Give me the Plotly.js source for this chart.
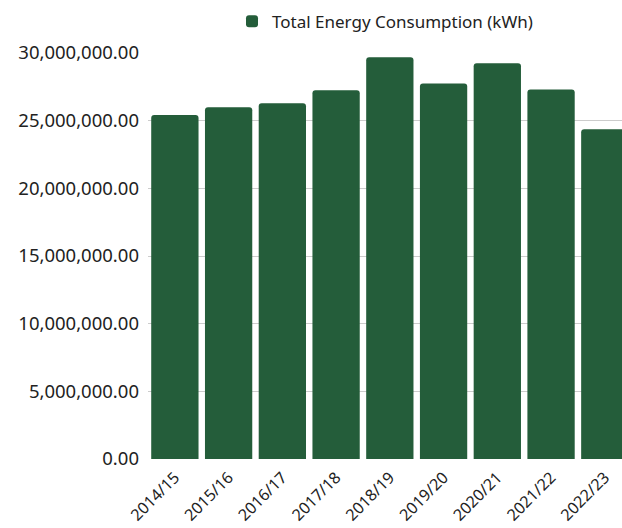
<!DOCTYPE html>
<html>
<head>
<meta charset="utf-8">
<script src="https://cdn.plot.ly/plotly-3.0.1.min.js"></script>
<style>html,body{margin:0;padding:0;background:#fff;}#chart{width:622px;height:528px;}</style>
</head>
<body>
<div id="chart"></div>
<script>
const years = ["2014/15","2015/16","2016/17","2017/18","2018/19","2019/20","2020/21","2021/22","2022/23"];
const consumption = [25420000, 26000000, 26290000, 27250000, 29690000, 27740000, 29250000, 27300000, 24370000];
const seriesName = "Total Energy Consumption (kWh)";
const yTicks = [0, 5000000, 10000000, 15000000, 20000000, 25000000, 30000000];

const trace = {
  type: "bar",
  x: years,
  y: consumption,
  name: seriesName,
  showlegend: true,
  marker: {color: "#245d3a", cornerradius: 3},
  hoverinfo: "x+y"
};

const layout = {
  width: 622, height: 528,
  margin: {l: 148, r: 0, t: 53, b: 69},
  paper_bgcolor: "#fff", plot_bgcolor: "#fff",
  font: {family: "Noto Sans, sans-serif", color: "#222", size: 15},
  bargap: 0.12,
  showlegend: true,
  legend: {orientation: "h", x: 0.5, xanchor: "center", y: 1.077, yanchor: "middle",
           font: {size: 17, color: "#222"}},
  xaxis: {type: "category", range: [-0.5, 8.32], tickangle: -45, showgrid: false, zeroline: false,
          showline: false, ticks: "", ticklabelstandoff: 5, tickfont: {size: 16, color: "#222"}},
  yaxis: {range: [0, 30000000], tickvals: yTicks, tickformat: ",.2f", showgrid: true, gridcolor: "#cccccc",
          gridwidth: 1, zeroline: false, showline: false, ticks: "", ticklabelstandoff: 8,
          tickfont: {size: 18.5, color: "#222"}}
};

Plotly.newPlot("chart", [trace], layout, {displayModeBar: false, staticPlot: true});
</script>
</body>
</html>
